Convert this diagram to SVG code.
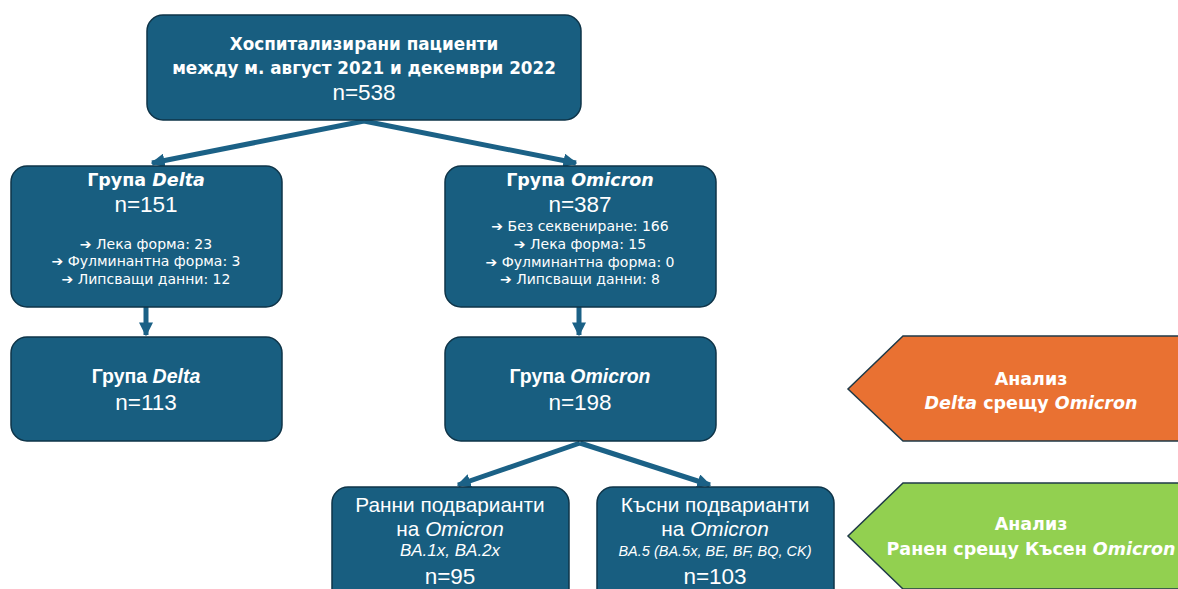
<svg xmlns="http://www.w3.org/2000/svg" width="1178" height="589" viewBox="0 0 1178 589">
<defs>
<style>
.box{fill:#185E80;stroke:#0E3448;stroke-width:1.5}
.t{fill:#fff;text-anchor:middle;font-family:"DejaVu Sans","Noto Sans",sans-serif}
.h{font-size:17.5px;font-weight:bold}
.n{font-family:"Liberation Sans",Arial,sans-serif;font-size:22.5px}
.s{font-size:14px}
.ar{font-weight:bold}
.h2{font-family:"Liberation Sans",Arial,sans-serif;font-size:19.5px;font-weight:bold}
.c{stroke:#1B6186;stroke-width:5;fill:none}
.p{font-family:"Liberation Sans",Arial,sans-serif;font-size:20.8px}
.sub{font-family:"Liberation Sans",Arial,sans-serif;font-size:17px;font-style:italic}
.a{font-size:17.5px;font-weight:bold}
</style>
<marker id="ah" viewBox="0 0 10 10" refX="9" refY="5" markerWidth="14" markerHeight="14" markerUnits="userSpaceOnUse" orient="auto">
<path d="M0,0 L10,5 L0,10 Z" fill="#1B6186"/>
</marker>
</defs>
<rect width="1178" height="589" fill="#fff"/>
<g id="connectors">
<path class="c" d="M364,121 L152,163" marker-end="url(#ah)"/>
<path class="c" d="M364,121 L576,163" marker-end="url(#ah)"/>
<path class="c" d="M146,307 L146,335" marker-end="url(#ah)"/>
<path class="c" d="M579,307 L579,335" marker-end="url(#ah)"/>
<path class="c" d="M580,443 L458,485" marker-end="url(#ah)"/>
<path class="c" d="M580,443 L710,485" marker-end="url(#ah)"/>
</g>
<g id="top">
<rect class="box" x="147" y="15" width="434" height="105" rx="16"/>
<text class="t h" x="364" y="50" style="font-size:16.8px">Хоспитализирани пациенти</text>
<text class="t h" x="364" y="74" style="font-size:16.8px">между м. август 2021 и декември 2022</text>
<text class="t n" x="364" y="100">n=538</text>
</g>
<g id="delta1">
<rect class="box" x="11" y="166" width="271" height="141" rx="16"/>
<text class="t h" x="146" y="186">Група <tspan font-style="italic">Delta</tspan></text>
<text class="t n" x="146" y="212">n=151</text>
<text class="t s" x="146" y="249"><tspan class="ar">➔</tspan> Лека форма: 23</text>
<text class="t s" x="146" y="266"><tspan class="ar">➔</tspan> Фулминантна форма: 3</text>
<text class="t s" x="146" y="284"><tspan class="ar">➔</tspan> Липсващи данни: 12</text>
</g>
<g id="omicron1">
<rect class="box" x="445" y="166" width="271" height="141" rx="16"/>
<text class="t h" x="580" y="186">Група <tspan font-style="italic">Omicron</tspan></text>
<text class="t n" x="580" y="212">n=387</text>
<text class="t s" x="580" y="231"><tspan class="ar">➔</tspan> Без секвениране: 166</text>
<text class="t s" x="580" y="249"><tspan class="ar">➔</tspan> Лека форма: 15</text>
<text class="t s" x="580" y="267"><tspan class="ar">➔</tspan> Фулминантна форма: 0</text>
<text class="t s" x="580" y="284"><tspan class="ar">➔</tspan> Липсващи данни: 8</text>
</g>
<g id="delta2">
<rect class="box" x="11" y="337" width="271" height="104" rx="16"/>
<text class="t h2" x="146" y="383">Група <tspan font-style="italic">Delta</tspan></text>
<text class="t n" x="146" y="410">n=113</text>
</g>
<g id="omicron2">
<rect class="box" x="445" y="337" width="271" height="104" rx="16"/>
<text class="t h2" x="580" y="383">Група <tspan font-style="italic">Omicron</tspan></text>
<text class="t n" x="580" y="410">n=198</text>
</g>
<g id="early">
<rect class="box" x="332" y="487" width="237" height="120" rx="16"/>
<text class="t p" x="450" y="512">Ранни подварианти</text>
<text class="t p" x="450" y="536">на <tspan font-style="italic">Omicron</tspan></text>
<text class="t sub" x="450" y="556">BA.1x, BA.2x</text>
<text class="t n" x="450" y="584">n=95</text>
</g>
<g id="late">
<rect class="box" x="597" y="487" width="237" height="120" rx="16"/>
<text class="t p" x="715" y="512">Късни подварианти</text>
<text class="t p" x="715" y="536">на <tspan font-style="italic">Omicron</tspan></text>
<text class="t sub" x="715" y="556" style="font-size:14.5px">BA.5 (BA.5x, BE, BF, BQ, CK)</text>
<text class="t n" x="715" y="584">n=103</text>
</g>
<g id="analysis1">
<path d="M1180,336 L903,336 L848,389 L903,441 L1180,441 Z" fill="#E97132" stroke="#1F3A48" stroke-width="1.5"/>
<text class="t a" x="1031" y="385">Анализ</text>
<text class="t a" x="1031" y="409"><tspan font-style="italic">Delta</tspan> срещу <tspan font-style="italic">Omicron</tspan></text>
</g>
<g id="analysis2">
<path d="M1180,483 L903,483 L848,536 L903,589 L1180,589 Z" fill="#92D050" stroke="#1F3A48" stroke-width="1.5"/>
<text class="t a" x="1031" y="530">Анализ</text>
<text class="t a" x="1031" y="555">Ранен срещу Късен <tspan font-style="italic">Omicron</tspan></text>
</g>
</svg>
